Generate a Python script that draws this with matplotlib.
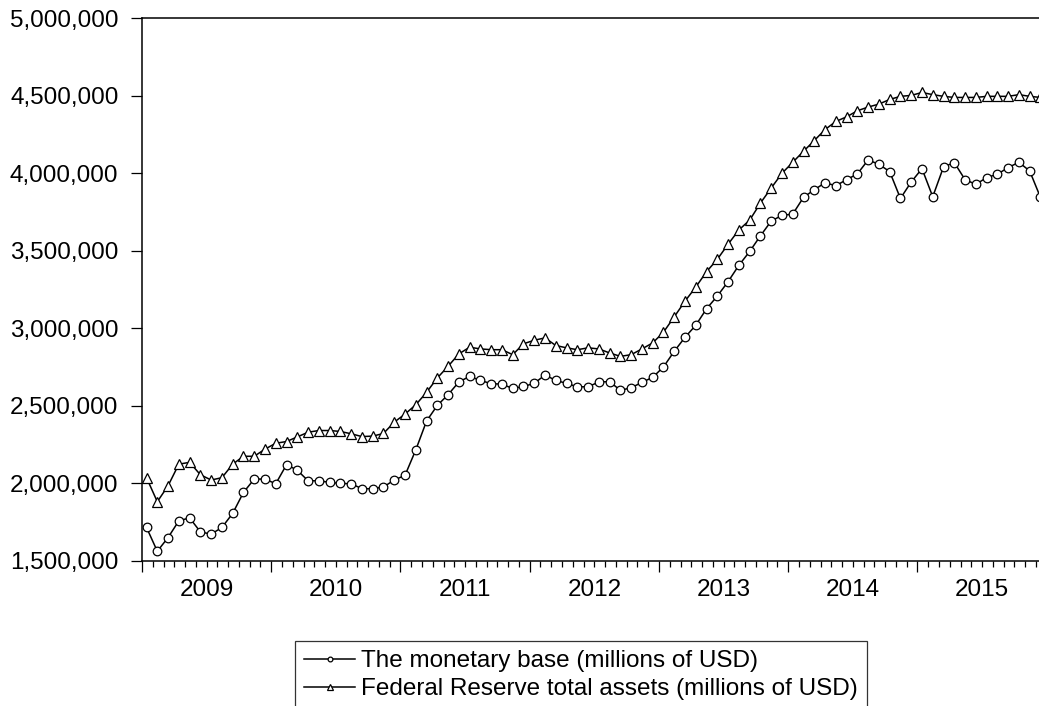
import matplotlib
matplotlib.use("Agg")
import matplotlib.pyplot as plt
from matplotlib.ticker import FixedLocator, FuncFormatter
import numpy as np

# ---- data (monthly, Jan 2009 - Dec 2015), millions of USD ----
years = [2009, 2010, 2011, 2012, 2013, 2014, 2015]

monetary_base = [
    1716000, 1563000, 1651000, 1759000, 1778000, 1688000, 1673000, 1716000, 1807000, 1942000, 2028000, 2028000,
    1998000, 2121000, 2085000, 2017000, 2017000, 2007000, 2000000, 1998000, 1966000, 1966000, 1977000, 2022000,
    2052000, 2216000, 2402000, 2503000, 2572000, 2654000, 2690000, 2664000, 2643000, 2640000, 2612000, 2625000,
    2645000, 2699000, 2664000, 2645000, 2623000, 2623000, 2654000, 2656000, 2600000, 2617000, 2651000, 2684000,
    2751000, 2852000, 2942000, 3020000, 3126000, 3208000, 3301000, 3406000, 3495000, 3596000, 3691000, 3728000,
    3736000, 3844000, 3893000, 3938000, 3919000, 3958000, 3995000, 4085000, 4057000, 4010000, 3837000, 3943000,
    4029000, 3848000, 4040000, 4068000, 3958000, 3928000, 3971000, 3993000, 4036000, 4070000, 4014000, 3844000,
]

fed_assets = [
    2037000, 1882000, 1985000, 2124000, 2136000, 2056000, 2022000, 2037000, 2124000, 2175000, 2175000, 2221000,
    2259000, 2270000, 2300000, 2330000, 2341000, 2341000, 2335000, 2320000, 2302000, 2305000, 2322000, 2395000,
    2447000, 2507000, 2587000, 2680000, 2755000, 2835000, 2878000, 2867000, 2862000, 2862000, 2830000, 2900000,
    2923000, 2938000, 2889000, 2874000, 2862000, 2874000, 2867000, 2841000, 2819000, 2830000, 2867000, 2906000,
    2975000, 3074000, 3175000, 3266000, 3365000, 3445000, 3542000, 3634000, 3697000, 3807000, 3904000, 3999000,
    4070000, 4141000, 4210000, 4281000, 4333000, 4363000, 4402000, 4426000, 4445000, 4475000, 4495000, 4501000,
    4520000, 4506000, 4495000, 4488000, 4488000, 4488000, 4495000, 4495000, 4495000, 4506000, 4495000, 4488000,
]

series_labels = ["The monetary base (millions of USD)",
                 "Federal Reserve total assets (millions of USD)"]
y_ticks = [1500000, 2000000, 2500000, 3000000, 3500000, 4000000, 4500000, 5000000]

# ---- positions ----
n = len(monetary_base)
x = years[0] + (np.arange(n) + 0.42) / 12.0

plt.rcParams['font.family'] = ['Liberation Sans', 'DejaVu Sans']
FS = 17.5
LFS = 17.5

fig = plt.figure(figsize=(10.39, 7.06), dpi=100)
W, H = 1039, 706
left_px, right_px, top_px, bot_px = 142, 1046.7, 18, 561
ax = fig.add_axes([left_px / W, 1 - bot_px / H, (right_px - left_px) / W, (bot_px - top_px) / H])

lw = 1.1
l1, = ax.plot(x, monetary_base, color='black', lw=lw, marker='o', markersize=6.2,
              markerfacecolor='white', markeredgecolor='black', markeredgewidth=0.9,
              label=series_labels[0])
l2, = ax.plot(x, fed_assets, color='black', lw=lw, marker='^', markersize=7.5,
              markerfacecolor='white', markeredgecolor='black', markeredgewidth=0.9,
              label=series_labels[1])

ax.set_xlim(years[0], years[-1] + 1)
ax.set_ylim(y_ticks[0], y_ticks[-1])

# y axis
ax.set_yticks(y_ticks)
ax.yaxis.set_major_formatter(FuncFormatter(lambda v, p: f"{int(v):,}"))
ax.tick_params(axis='y', direction='out', length=8, width=0.9, labelsize=FS, pad=9)

# x axis: major ticks at year boundaries, minor ticks monthly, labels at mid-year
year_edges = [years[0] + k for k in range(len(years) + 1)]
ax.xaxis.set_major_locator(FixedLocator(year_edges))
ax.xaxis.set_major_formatter(FuncFormatter(lambda v, p: ""))
minor_pos = [years[0] + j / 12.0 for j in range(len(years) * 12) if j % 12 != 0]
ax.xaxis.set_minor_locator(FixedLocator(minor_pos))

def minor_fmt(v, p):
    frac = v - np.floor(v + 1e-9)
    if abs(frac - 0.5) < 1e-6:
        return str(int(np.floor(v)))
    return ""

ax.xaxis.set_minor_formatter(FuncFormatter(minor_fmt))
ax.tick_params(axis='x', which='major', direction='out', length=8, width=0.9)
ax.tick_params(axis='x', which='minor', direction='out', length=4, width=0.9,
               labelsize=FS, pad=9)

for s in ax.spines.values():
    s.set_linewidth(1.1)

leg = fig.legend(handles=[l1, l2], loc='upper left',
                 bbox_to_anchor=(295 / W, 1 - 641 / H),
                 fontsize=LFS, frameon=True, fancybox=False, shadow=False,
                 handlelength=2.1, handletextpad=0.25, borderpad=0.38,
                 labelspacing=0.25, borderaxespad=0, markerscale=0.55)
leg.get_frame().set_edgecolor('black')
leg.get_frame().set_linewidth(0.9)

fig.savefig("out.png", dpi=100)
